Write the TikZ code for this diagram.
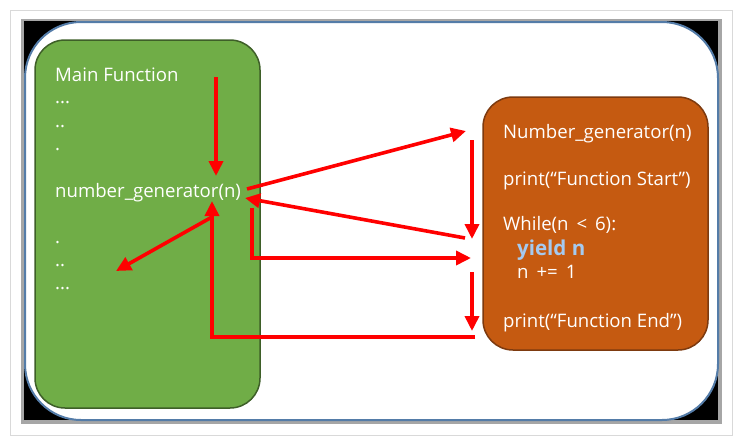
\documentclass[tikz,border=0pt]{standalone}
\usepackage{fontspec}
\setmainfont{Open Sans}
\usepackage{tikz}
\usetikzlibrary{positioning}
\usetikzlibrary{arrows.meta}

\definecolor{boxgreen}{RGB}{112,173,71}
\definecolor{edgegreen}{RGB}{62,95,40}
\definecolor{boxorange}{RGB}{197,90,17}
\definecolor{edgeorange}{RGB}{125,58,15}
\definecolor{framblue}{RGB}{84,124,168}
\definecolor{yieldblue}{RGB}{165,202,240}
\definecolor{arrowred}{RGB}{255,0,0}

\begin{document}
\begin{tikzpicture}[x=1pt,y=-1pt,
  txt/.style={text=white,anchor=base west,inner sep=0pt,font=\fontsize{18.6}{22}\selectfont},
  flow/.style={draw=arrowred,line width=3.6pt,-{Triangle[length=15pt,width=14pt]}}]

  \useasboundingbox (0,0) rectangle (742,445);

  % Frame
  \draw[gray!30,fill=white] (10,10) rectangle (732,435);
  \fill[gray!70] (21,19) rectangle (722,424);
  \fill[black] (24,21) rectangle (718,420);
  \draw[framblue,fill=white,line width=2pt,rounded corners=56pt] (25,22) rectangle (718,420);

  % Boxes
  \node[draw=edgegreen,fill=boxgreen,line width=1.5pt,rounded corners=30pt,
        minimum width=225pt,minimum height=368pt,inner sep=0pt] (mainbox) at (147.5,224) {};
  \node[draw=edgeorange,fill=boxorange,line width=1.5pt,rounded corners=30pt,
        minimum width=225pt,minimum height=253pt,inner sep=0pt] (genbox) at (595.5,223.5) {};

  % Labels
  \node[txt] (mainfn) at (55,81) {Main Function};
  \node[txt] (dotsa) at (55,103) {...};
  \node[txt] (dotsb) at (55,127) {..};
  \node[txt] (dotsc) at (55,150) {.};
  \node[txt] (call) at (55,197) {number\_generator(n)};
  \node[txt] (dotsd) at (55,243) {.};
  \node[txt] (dotse) at (55,266) {..};
  \node[txt] (dotsf) at (55,289) {...};

  \node[txt] (gendef) at (503,138) {Number\_generator(n)};
  \node[txt] (startp) at (503,185) {print(“Function Start”)};
  \node[txt] (loop) at (503,230) {While(n \,<\, 6):};
  \node[txt,text=yieldblue,font=\fontsize{20.5}{24}\selectfont\bfseries] (yld) at (517,255) {yield n};
  \node[txt] (incr) at (517,278) {n \,+=\, 1};
  \node[txt] (endp) at (503,327) {print(“Function End”)};

  % Arrow ends
  \coordinate (p1) at (216,77);
  \coordinate (p2) at (216,176);
  \coordinate (p3) at (247,189);
  \coordinate (p4) at (466,131);
  \coordinate (p5) at (472,140);
  \coordinate (p6) at (472,239);
  \coordinate (p7) at (465,238);
  \coordinate (p8) at (245,198);
  \coordinate (p9) at (252,208);
  \coordinate (p10) at (471,258);
  \coordinate (p11) at (472,272);
  \coordinate (p12) at (472,331);
  \coordinate (p13) at (475,337);
  \coordinate (p14) at (212,201);
  \coordinate (p15) at (212,217);
  \coordinate (p16) at (116,271);

  % Flow
  \draw[flow] (p1) -- (p2);
  \draw[flow] (p3) -- (p4);
  \draw[flow] (p5) -- (p6);
  \draw[flow] (p7) -- (p8);
  \draw[flow] (p9) |- (p10);
  \draw[flow] (p11) -- (p12);
  \draw[flow] (p13) -| (p14);
  \draw[flow] (p15) -- (p16);
\end{tikzpicture}
\end{document}
